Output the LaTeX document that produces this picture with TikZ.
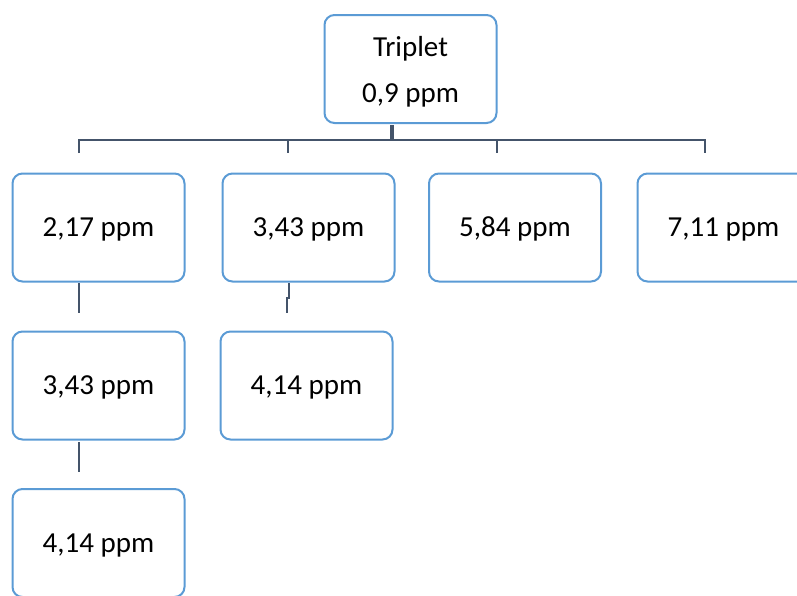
\documentclass[tikz,border=0pt]{standalone}
\usepackage{fontspec}
\setmainfont{Carlito}
\definecolor{boxblue}{HTML}{5B9BD5}
\definecolor{linegray}{HTML}{44546A}
\begin{document}
\begin{tikzpicture}[x=1pt,y=-1pt,
  box/.style={draw=boxblue, line width=2pt, fill=white, rounded corners=10pt,
    minimum width=172pt, minimum height=108pt, inner sep=0pt, align=center,
    text height=24pt, text depth=6pt,
    font=\fontsize{29}{46}\selectfont},
  topbox/.style={box, text height=72pt, text depth=6pt},
  conn/.style={draw=linegray, line width=2.4pt},
  thick conn/.style={draw=linegray, line width=4.5pt}]
\useasboundingbox (0,0) rectangle (797,595);
\begin{scope}
\clip (0,0) rectangle (797,595);
% nodes
\node[topbox] (top) at (410.5,69) {Triplet\\0,9 ppm};
\node[box] (a1) at (98.5,227.5) {2,17 ppm};
\node[box] (a2) at (308.5,227.5) {3,43 ppm};
\node[box] (a3) at (515,227.5) {5,84 ppm};
\node[box] (a4) at (723.5,227.5) {7,11 ppm};
\node[box] (b1) at (98.5,385.5) {3,43 ppm};
\node[box] (b2) at (306.5,385.5) {4,14 ppm};
\node[box] (c1) at (98.5,543) {4,14 ppm};
% coordinates for connectors
\coordinate (tdrop) at (392,125);
\coordinate (bar) at (392,140);
\coordinate (bl) at (79,140);
\coordinate (br) at (705,140);
\coordinate (d1) at (79,153);
\coordinate (d2) at (288,153);
\coordinate (d3) at (497,153);
\coordinate (d4) at (705,153);
\coordinate (e1s) at (79,283);
\coordinate (e1e) at (79,313);
\coordinate (e2s) at (289,283);
\coordinate (e2m) at (289,298);
\coordinate (e2n) at (287,298);
\coordinate (e2e) at (287,313);
\coordinate (f1s) at (79,442);
\coordinate (f1e) at (79,472);
% connectors
\draw[thick conn] (tdrop) -- (bar);
\draw[conn] (d1) -- (bl) -- (br) -- (d4);
\draw[conn] (d2 |- bar) -- (d2);
\draw[conn] (d3 |- bar) -- (d3);
\draw[conn] (e1s) -- (e1e);
\draw[conn] (e2s) -- (e2m) -- (e2n) -- (e2e);
\draw[conn] (f1s) -- (f1e);
\end{scope}
\end{tikzpicture}
\end{document}
